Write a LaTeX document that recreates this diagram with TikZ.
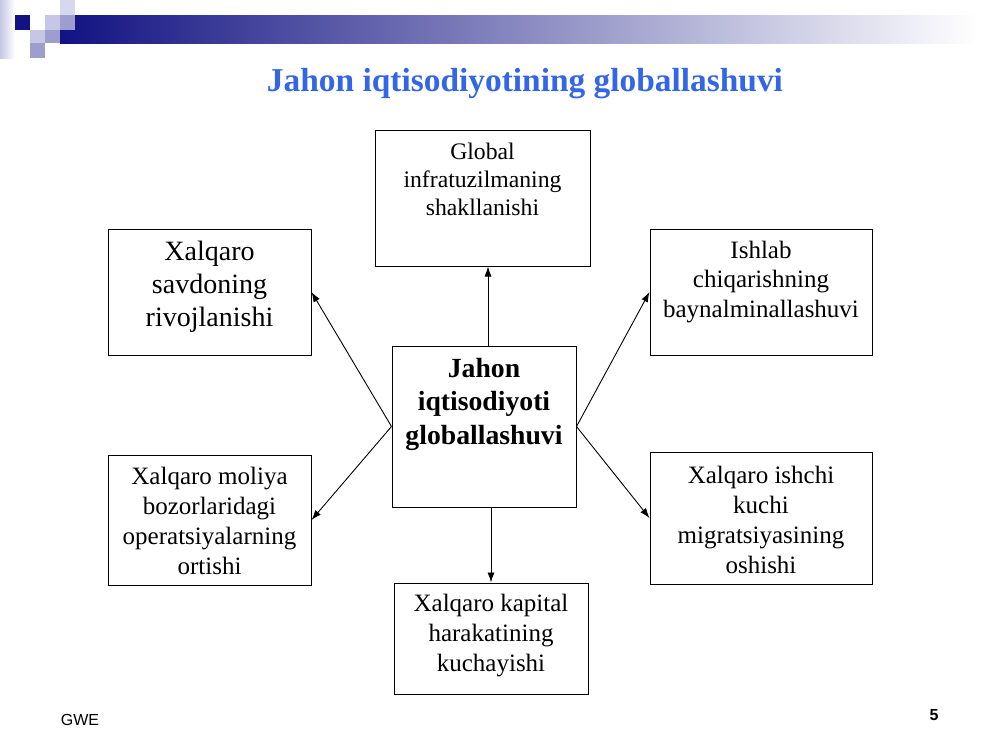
\documentclass[tikz,border=0pt]{standalone}
\usepackage{fontspec}
\setmainfont{Liberation Serif}
\setsansfont{Liberation Sans}
\usetikzlibrary{arrows.meta}
\definecolor{navy}{RGB}{18,18,130}
\definecolor{midlav}{RGB}{112,112,182}
\definecolor{lav1}{RGB}{215,215,238}
\definecolor{lav2}{RGB}{198,198,230}
\definecolor{lav3}{RGB}{158,158,206}
\definecolor{titleblue}{RGB}{51,102,230}

\begin{document}
\begin{tikzpicture}[x = 1pt, y = -1pt, line width = 1pt,
    box/.style = {draw, rectangle, inner sep = 0pt},
    txt/.style = {align = center, inner sep = 0pt},
    arr/.style = {-{Latex[length = 10pt, width = 7pt]}, line width = 0.9pt}]
\useasboundingbox (0,0) rectangle (1000,750);
% header
\shade[left color = lav2, right color = white] (0,0) rectangle (15,58);
\shade[left color = navy, middle color = midlav, right color = white] (60,15) rectangle (978,43);
\fill[navy] (15,15) rectangle (30,30);
\fill[lav1] (60,0) rectangle (75,15);
\fill[lav2] (45,15) rectangle (60,30);
\fill[lav3] (60,15) rectangle (75,30);
\fill[lav2] (30,30) rectangle (45,43);
\fill[lav3] (45,30) rectangle (60,43);
\fill[lav3] (30,43) rectangle (45,58);
\node[txt, titleblue, font = \fontsize{33.4}{38}\bfseries\selectfont] (title) at (525,84) {Jahon iqtisodiyotining globallashuvi};

\draw (482.5,198) node[box, minimum width = 215pt, minimum height = 136pt](glob){}
    (209.5,292) node[box, minimum width = 203pt, minimum height = 126pt](sav){}
    (761,292) node[box, minimum width = 222pt, minimum height = 126pt](ish){}
    (484,426.5) node[box, minimum width = 184pt, minimum height = 161pt](ctr){}
    (209.5,520) node[box, minimum width = 203pt, minimum height = 130pt](mol){}
    (761,518) node[box, minimum width = 222pt, minimum height = 132pt](mig){}
    (491,638.5) node[box, minimum width = 194pt, minimum height = 111pt](kap){};
\draw (482.5,179) node[txt, font = \fontsize{23.7}{28}\selectfont](globt){Global\\infratuzilmaning\\shakllanishi}
    (209.5,287) node[txt, font = \fontsize{28}{33}\selectfont](savt){Xalqaro\\savdoning\\rivojlanishi}
    (761,282) node[txt, font = \fontsize{25}{29.5}\selectfont](isht){Ishlab\\chiqarishning\\baynalminallashuvi}
    (484,404) node[txt, font = \fontsize{27.7}{33.5}\bfseries\selectfont](ctrt){Jahon\\iqtisodiyoti\\globallashuvi}
    (209.5,521) node[txt, font = \fontsize{25}{30}\selectfont](molt){Xalqaro moliya\\bozorlaridagi\\operatsiyalarning\\ortishi}
    (761,520) node[txt, font = \fontsize{25}{30}\selectfont](migt){Xalqaro ishchi\\kuchi\\migratsiyasining\\oshishi}
    (491,636) node[txt, font = \fontsize{25}{30}\selectfont](kapt){Xalqaro kapital\\harakatining\\kuchayishi};
    \draw [arr] ([xshift = 4pt]ctr.north) -- ([xshift = 4pt]ctr.north |- glob.south);
    \draw [arr] (ctr.west) -- (sav.east);
    \draw [arr] (ctr.west) -- (mol.east);
    \draw [arr] (ctr.east) -- (ish.west);
    \draw [arr] (ctr.east) -- (mig.west);
    \draw [arr] (kap.north |- ctr.south) -- (kap.north);
% footer
\node[txt, font = \sffamily\fontsize{16}{18}\selectfont] (gwe) at (80,720) {GWE};
\node[txt, font = \sffamily\fontsize{16}{18}\bfseries\selectfont] (num) at (934,715) {5};
\end{tikzpicture}
\end{document}
